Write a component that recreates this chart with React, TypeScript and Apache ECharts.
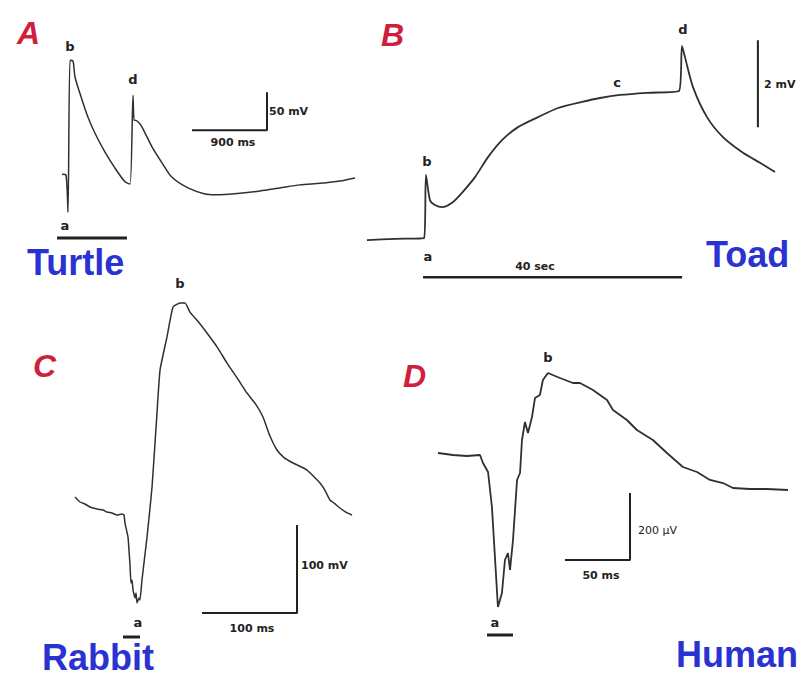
import React, { useEffect, useRef } from "react";
import * as echarts from "echarts";

// ---------- Panel A: Turtle (time in ms, potential in mV) ----------
const turtleTimeMs = [12, 60, 84, 108, 144, 168, 252, 324, 408, 528, 648, 768, 828, 864, 876, 888, 924, 972, 1092, 1212, 1332, 1524, 1728, 1848, 2148, 2388, 2628, 2868, 3108, 3348, 3528];
const turtleMv = [1, 0, -49, 151, 150, 129, 99, 76, 55, 30, 9, -9, -12, 105, 72, 72, 70, 63, 37, 16, -3, -17, -25, -26, -24, -21, -17, -13, -11, -8, -4];
const turtleScaleTimeMs = [1572, 2472, 2472];
const turtleScaleMv = [59, 59, 109];
const turtleStimTimeMs = [-48, 792];
const turtleStimMv = [-83, -83];

// ---------- Panel B: Toad (time in s, potential in mV) ----------
const toadTimeS = [-8.96, -4.63, -0.15, 0.15, 0.77, 1.54, 2.62, 4.17, 5.71, 7.72, 9.73, 11.89, 14.36, 17.45, 20.54, 24.24, 27.02, 30.11, 34.28, 39.22, 39.68, 40.14, 41.38, 43.54, 46.01, 49.1, 51.72, 54.04];
const toadMv = [-0.05, -0.02, 0, 1.45, 0.87, 0.76, 0.71, 0.81, 1.04, 1.4, 1.86, 2.25, 2.55, 2.78, 2.99, 3.13, 3.22, 3.29, 3.34, 3.38, 4.42, 4.16, 3.47, 2.78, 2.32, 1.96, 1.73, 1.52];
const toadScaleTimeS = [51.4, 51.4];
const toadScaleMv = [2.55, 4.55];
const toadStimTimeS = [-0.3, 39.7];
const toadStimMv = [-0.9, -0.9];

// ---------- Panel C: Rabbit (time in ms, potential in mV) ----------
const rabbitTimeMs = [0, 5.3, 10.5, 15.8, 23.2, 29.5, 33.7, 38.9, 44.2, 49.5, 51.6, 52.6, 55.8, 56.8, 57.9, 58.9, 60, 61.1, 63.2, 64.2, 65.3, 67.4, 68.4, 70.5, 75.8, 81.1, 86.3, 89.5, 96.8, 103.2, 110.5, 115.8, 121, 130, 138.9, 150, 160, 171, 181, 190, 197.9, 205, 212.6, 220, 229.5, 235, 244.2, 250, 257.9, 263, 268.4, 273, 278.9, 285, 291.6];
const rabbitMv = [18.2, 12.5, 10.2, 6.8, 4.5, 3.4, 1.1, 0, -2.3, -1.1, -2.3, -11.4, -27.3, -42, -59, -79.5, -76, -87.5, -96.6, -90.9, -102.2, -96.6, -98.8, -76.1, -27.3, 29.5, 113.6, 162.4, 199.9, 234, 238.6, 238.6, 228.3, 217, 204.5, 188, 170.4, 153, 136.3, 124, 109.1, 88, 71.6, 63, 56.8, 54, 48.8, 43, 34.1, 26, 14.8, 11, 5.7, 1, -2.3];
const rabbitScaleTimeMs = [133.7, 233.7, 233.7];
const rabbitScaleMv = [-113.6, -113.6, -13.6];
const rabbitStimTimeMs = [50.5, 68.4];
const rabbitStimMv = [-140.9, -140.9];

// ---------- Panel D: Human (time in ms, potential in µV) ----------
const humanTimeMs = [0, 11.5, 22.3, 32.3, 34.6, 38.5, 41.5, 43.8, 46.1, 49.2, 51.5, 53.8, 55.4, 57.7, 60.8, 63.1, 64.6, 66.9, 69.2, 72.3, 74.6, 78.4, 80.7, 84.6, 93.8, 103.8, 109.2, 119.2, 130, 134.6, 145.3, 153, 165.3, 176.1, 188.4, 199.2, 209.2, 219.2, 226.9, 239.9, 253, 269.2];
const humanUv = [6, 0, -3, 0, -23.9, -50.7, -155.2, -304.5, -453.7, -411.9, -313.4, -292.5, -343.3, -253.7, -74.6, -53.7, 44.8, 98.5, 65.7, 113.4, 170.1, 179.1, 223.9, 244.8, 229.8, 214.9, 214.9, 194, 164.2, 134.3, 104.5, 74.6, 44.8, 6, -35.8, -50.7, -74.6, -83.6, -98.5, -101.5, -101.5, -104.5];
const humanScaleTimeMs = [97.7, 147.7, 147.7];
const humanScaleUv = [-313.4, -313.4, -113.4];
const humanStimTimeMs = [37.7, 57.7];
const humanStimUv = [-537, -537];

const zip = (xs: number[], ys: number[]) => xs.map((x, i) => [x, ys[i]]);

const TRACE = "#303030";
const BAR = "#222222";
const RED = "#cf1f3c";
const BLUE = "#2a33d2";

function line(data: number[][], idx: number, width: number, color: string, smooth: number = 0) {
  return {
    type: "line",
    xAxisIndex: idx,
    yAxisIndex: idx,
    data,
    symbol: "none",
    showSymbol: false,
    silent: true,
    smooth: smooth > 0 ? smooth : false,
    lineStyle: { color, width, cap: "butt" },
  };
}

function txt(
  text: string,
  x: number,
  y: number,
  opts: { size: number; color?: string; align?: string; italic?: boolean; family?: string; weight?: string }
) {
  const align = opts.align || "center";
  return {
    type: "text",
    x,
    y,
    silent: true,
    style: {
      text,
      fill: opts.color || "#222",
      fontSize: opts.size,
      fontWeight: opts.weight || "bold",
      fontStyle: opts.italic ? "italic" : "normal",
      fontFamily: opts.family || "DejaVu Sans",
      align,
      textAlign: align,
      verticalAlign: "middle",
      textVerticalAlign: "middle",
    },
  };
}

export default function App() {
  const ref = useRef<HTMLDivElement>(null);

  useEffect(() => {
    if (!ref.current) return;
    const chart = echarts.init(ref.current, undefined, { renderer: "svg" });

    const grids = [
      { left: 56, top: 38.22, width: 305, height: 205.17 },
      { left: 360.23, top: 20.61, width: 427.46, height: 260.87 },
      { left: 65.5, top: 293, width: 294.5, height: 352 },
      { left: 425, top: 354.5, width: 370.5, height: 301.5 },
    ].map((g) => ({ ...g, containLabel: false, outerBoundsMode: "none" }));

    const xRanges = [
      [-60, 3600],
      [-10, 56],
      [-10, 300],
      [-10, 275],
    ];
    const yRanges = [
      [-90, 180],
      [-1, 5],
      [-150, 250],
      [-600, 300],
    ];

    const xAxis = xRanges.map((r, i) => ({ type: "value", gridIndex: i, min: r[0], max: r[1], show: false }));
    const yAxis = yRanges.map((r, i) => ({ type: "value", gridIndex: i, min: r[0], max: r[1], show: false }));

    const series = [
      line(zip(turtleTimeMs, turtleMv), 0, 1.5, TRACE, 0.25),
      line(zip(turtleScaleTimeMs, turtleScaleMv), 0, 2, BAR),
      line(zip(turtleStimTimeMs, turtleStimMv), 0, 3, BAR),
      line(zip(toadTimeS, toadMv), 1, 1.8, TRACE, 0.25),
      line(zip(toadScaleTimeS, toadScaleMv), 1, 2, BAR),
      line(zip(toadStimTimeS, toadStimMv), 1, 2.5, BAR),
      line(zip(rabbitTimeMs, rabbitMv), 2, 1.5, TRACE, 0.15),
      line(zip(rabbitScaleTimeMs, rabbitScaleMv), 2, 2, BAR),
      line(zip(rabbitStimTimeMs, rabbitStimMv), 2, 3, BAR),
      line(zip(humanTimeMs, humanUv), 3, 1.8, TRACE),
      line(zip(humanScaleTimeMs, humanScaleUv), 3, 2, BAR),
      line(zip(humanStimTimeMs, humanStimUv), 3, 3, BAR),
    ];

    const big = { size: 36, color: BLUE, align: "left", family: "Liberation Sans" };
    const panel = { size: 32, color: RED, align: "left", italic: true, family: "Liberation Sans" };
    const small = { size: 13 };
    const tiny = { size: 11 };

    const graphic = [
      txt("A", 17, 33, panel),
      txt("B", 381, 35, panel),
      txt("C", 33, 366, panel),
      txt("D", 403, 376, panel),
      txt("Turtle", 27, 262, big),
      txt("Toad", 706, 254, big),
      txt("Rabbit", 42, 657, big),
      txt("Human", 676, 654, big),
      // panel A
      txt("b", 70, 46, small),
      txt("d", 133, 79, small),
      txt("a", 65, 225, small),
      txt("50 mV", 269, 111, { ...tiny, align: "left" }),
      txt("900 ms", 233, 142, tiny),
      // panel B
      txt("b", 427, 161, small),
      txt("a", 428, 256, small),
      txt("c", 617, 82, small),
      txt("d", 683, 29, small),
      txt("2 mV", 764, 84, { ...tiny, align: "left" }),
      txt("40 sec", 535, 266, tiny),
      // panel C
      txt("b", 180, 283, small),
      txt("a", 138, 622, small),
      txt("100 mV", 301, 565, { ...tiny, align: "left" }),
      txt("100 ms", 252, 628, tiny),
      // panel D
      txt("b", 548, 357, small),
      txt("a", 495, 622, small),
      txt("200 μV", 638, 530, { ...tiny, align: "left", weight: "normal" }),
      txt("50 ms", 601, 575, tiny),
    ];

    chart.setOption({
      animation: false,
      backgroundColor: "#ffffff",
      grid: grids,
      xAxis,
      yAxis,
      series,
      graphic,
    } as any);

    return () => chart.dispose();
  }, []);

  return (
    <div
      ref={ref}
      style={{ position: "fixed", left: 0, top: 0, width: 802, height: 678, background: "#fff" }}
    />
  );
}
